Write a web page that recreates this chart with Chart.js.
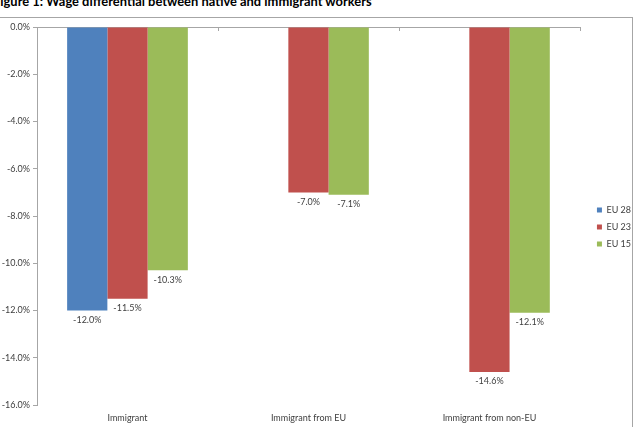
<!DOCTYPE html>
<html>
<head>
<meta charset="utf-8">
<script src="https://cdn.jsdelivr.net/npm/chart.js@4/dist/chart.umd.min.js"></script>
<style>
  html, body { margin: 0; padding: 0; background: #fff; overflow: hidden; }
  #wrap { position: relative; width: 636px; height: 427px; }
  #title {
    position: absolute; left: -7px; top: -5px; white-space: nowrap;
    font: bold 12.9px Lato, "Liberation Sans", sans-serif; color: #000; line-height: 13px;
  }
  #frame {
    position: absolute; left: -2px; top: 17px; width: 635px; height: 420px;
    border: 1px solid #a6a6a6; box-sizing: border-box;
  }
  #chart { position: absolute; left: 0; top: 0; }
</style>
</head>
<body>
<div id="wrap">
  <div id="title">Figure 1: Wage differential between native and immigrant workers</div>
  <div id="frame"></div>
  <canvas id="chart" width="636" height="427"></canvas>
</div>
<script>
// Chart data
const categories = ['Immigrant', 'Immigrant from EU', 'Immigrant from non-EU'];
const seriesNames = ['EU 28', 'EU 23', 'EU 15'];
const eu28 = [-12.0, null, null];
const eu23 = [-11.5, -7.0, -14.6];
const eu15 = [-10.3, -7.1, -12.1];
const yTicks = [0, -2, -4, -6, -8, -10, -12, -14, -16];

const colors = ['#4f81bd', '#c0504d', '#9bbb59'];
const FONT = 'Lato, "Liberation Sans", sans-serif';

// labels under each bar end
const barLabels = {
  id: 'barLabels',
  afterDatasetsDraw(chart) {
    const ctx = chart.ctx;
    ctx.save();
    ctx.font = '9px ' + FONT;
    ctx.fillStyle = '#404040';
    ctx.textAlign = 'center';
    ctx.textBaseline = 'top';
    chart.data.datasets.forEach((ds, i) => {
      chart.getDatasetMeta(i).data.forEach((bar, j) => {
        const v = ds.data[j];
        if (v === null) return;
        ctx.fillText(v.toFixed(1) + '%', bar.x, bar.y + 5);
      });
    });
    ctx.restore();
  }
};

// small tick marks on the zero line between categories
const catTicks = {
  id: 'catTicks',
  afterDraw(chart) {
    const a = chart.chartArea, ctx = chart.ctx;
    const n = categories.length;
    ctx.save();
    ctx.strokeStyle = '#a6a6a6';
    ctx.lineWidth = 1;
    for (let i = 1; i <= n; i++) {
      const x = Math.round(a.left + (a.right - a.left) * i / n) + 0.5;
      ctx.beginPath();
      ctx.moveTo(x, a.top);
      ctx.lineTo(x, a.top + 4);
      ctx.stroke();
    }
    ctx.restore();
  }
};

// nudge the legend a bit to the right, like the original
const legendShift = {
  id: 'legendShift',
  afterLayout(chart) {
    const lg = chart.legend;
    if (!lg) return;
    lg.left += 9;
    lg.right += 9;
  }
};

new Chart(document.getElementById('chart'), {
  type: 'bar',
  data: {
    labels: categories,
    datasets: [eu28, eu23, eu15].map((d, i) => ({
      label: seriesNames[i],
      data: d,
      backgroundColor: colors[i],
      borderWidth: 0,
      categoryPercentage: 0.667,
      barPercentage: 1
    }))
  },
  options: {
    responsive: false,
    animation: false,
    layout: { padding: { top: 27, left: 0, right: 4, bottom: 0 } },
    scales: {
      x: {
        grid: { display: false, drawTicks: false },
        border: { display: false },
        ticks: { padding: 8, color: '#404040', font: { family: FONT, size: 9 } },
        afterFit: s => { s.height = 22; }
      },
      y: {
        min: -16,
        max: 0,
        afterBuildTicks: s => { s.ticks = yTicks.map(v => ({ value: v })); },
        afterFit: s => { s.width = 37; },
        border: { display: true, color: '#a6a6a6' },
        grid: {
          color: c => (c.tick && c.tick.value === 0 ? '#a6a6a6' : 'rgba(0,0,0,0)'),
          tickColor: '#a6a6a6',
          tickLength: 4
        },
        ticks: {
          padding: 3,
          color: '#404040',
          font: { family: FONT, size: 9 },
          callback: v => v.toFixed(1) + '%'
        }
      }
    },
    plugins: {
      legend: {
        position: 'right',
        labels: {
          boxWidth: 5,
          boxHeight: 5,
          padding: 8,
          color: '#404040',
          font: { family: FONT, size: 9 }
        }
      },
      tooltip: { enabled: false }
    }
  },
  plugins: [barLabels, catTicks, legendShift]
});
</script>
</body>
</html>
